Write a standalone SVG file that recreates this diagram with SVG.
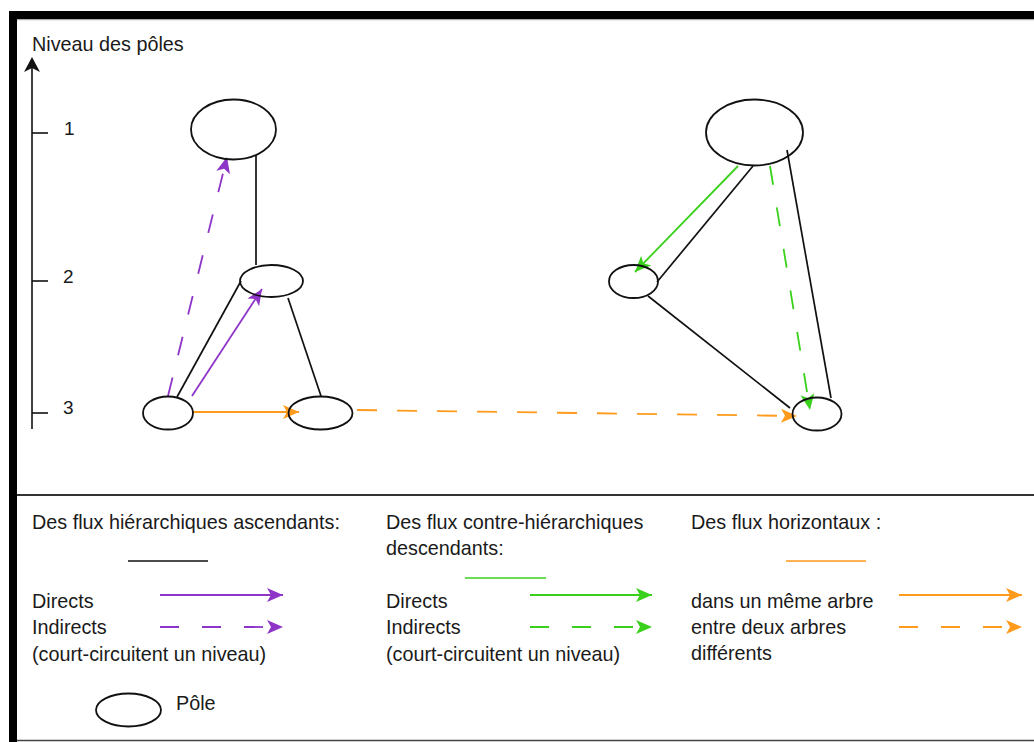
<svg xmlns="http://www.w3.org/2000/svg" width="1034" height="742" viewBox="0 0 1034 742">
<style>
text{font-family:"Liberation Sans",Arial,sans-serif;fill:#1a1a1a}
.t{font-size:19.8px}
.n{font-size:19px}
.pole{fill:none;stroke:#111;stroke-width:1.8}
.bk{stroke:#111;stroke-width:1.7;fill:none}
.pu{stroke:#8e35c8;stroke-width:1.8;fill:none}
.gr{stroke:#3ad11c;stroke-width:1.8;fill:none}
.or{stroke:#ff9a1c;stroke-width:1.8;fill:none}
.d{stroke-dasharray:19 23}
</style>
<defs>
<marker id="ap" markerUnits="userSpaceOnUse" markerWidth="18" markerHeight="15" refX="16" refY="7" orient="auto"><path d="M0,0 L16,7 L0,14 L4,7 z" fill="#8e35c8"/></marker>
<marker id="ag" markerUnits="userSpaceOnUse" markerWidth="18" markerHeight="15" refX="16" refY="7" orient="auto"><path d="M0,0 L16,7 L0,14 L4,7 z" fill="#3ad11c"/></marker>
<marker id="ao" markerUnits="userSpaceOnUse" markerWidth="18" markerHeight="15" refX="16" refY="7" orient="auto"><path d="M0,0 L16,7 L0,14 L4,7 z" fill="#ff9a1c"/></marker>
</defs>
<rect width="1034" height="742" fill="#fff"/>
<!-- frame -->
<rect x="9" y="11" width="1025" height="8" fill="#000"/>
<line x1="17" y1="19.7" x2="1034" y2="19.7" stroke="#999" stroke-width="1"/>
<rect x="9" y="11" width="8" height="731" fill="#000"/>
<line x1="17" y1="495" x2="1034" y2="495" stroke="#333" stroke-width="2"/>
<line x1="17" y1="740.5" x2="1034" y2="740.5" stroke="#444" stroke-width="1.5"/>
<!-- axis -->
<g id="axis">
<line x1="32" y1="429" x2="32" y2="68" stroke="#111" stroke-width="1.6"/>
<path d="M32,57 L40,72 L32,68 L24,72 z" fill="#111"/>
<line x1="32" y1="133" x2="48" y2="133" stroke="#111" stroke-width="1.6"/>
<line x1="32" y1="281" x2="48" y2="281" stroke="#111" stroke-width="1.6"/>
<line x1="32" y1="413" x2="48" y2="413" stroke="#111" stroke-width="1.6"/>
<text x="32" y="51" class="t">Niveau des pôles</text>
<text x="64" y="135" class="n">1</text>
<text x="63" y="283" class="n">2</text>
<text x="63" y="414" class="n">3</text>
</g>
<!-- connectors -->
<g id="connectors">
<line class="bk" x1="256" y1="155" x2="256" y2="265"/>
<line class="bk" x1="177" y1="397" x2="241" y2="281"/>
<line class="bk" x1="288" y1="298" x2="321" y2="396"/>
<line class="pu" x1="192" y1="396" x2="262" y2="289" marker-end="url(#ap)"/>
<line class="pu d" x1="168" y1="396" x2="227" y2="157" marker-end="url(#ap)"/>
<line class="or" x1="193" y1="412" x2="299" y2="412" marker-end="url(#ao)"/>
<line class="or" x1="357" y1="410" x2="797" y2="416" marker-end="url(#ao)" stroke-dasharray="20 20"/>
<line class="bk" x1="753" y1="166" x2="657" y2="282"/>
<line class="gr" x1="738" y1="166" x2="635" y2="272" marker-end="url(#ag)"/>
<line class="bk" x1="648" y1="296" x2="790" y2="408"/>
<line class="gr d" x1="770" y1="166" x2="810" y2="410" marker-end="url(#ag)"/>
<line class="bk" x1="787" y1="150" x2="831" y2="398"/>
</g>
<!-- nodes -->
<g id="n_l1"><ellipse class="pole" cx="233.5" cy="129.5" rx="42.5" ry="30"/></g>
<g id="n_l2"><ellipse class="pole" cx="271.5" cy="281" rx="31.5" ry="16"/></g>
<g id="n_l3a"><ellipse class="pole" cx="168" cy="413" rx="25" ry="16.5"/></g>
<g id="n_l3b"><ellipse class="pole" cx="320.5" cy="413" rx="32" ry="16.5"/></g>
<g id="n_r1"><ellipse class="pole" cx="754.5" cy="132.5" rx="48.5" ry="33"/></g>
<g id="n_r2"><ellipse class="pole" cx="633.5" cy="281.5" rx="24.5" ry="16.5"/></g>
<g id="n_r3"><ellipse class="pole" cx="817" cy="414" rx="24.5" ry="16.5"/></g>
<!-- legend -->
<g id="legend1">
<text x="32" y="529" class="t">Des flux hiérarchiques ascendants:</text>
<line x1="128" y1="561" x2="208" y2="561" stroke="#111" stroke-width="1.7"/>
<text x="32" y="608" class="t">Directs</text>
<line class="pu" x1="160" y1="595" x2="283" y2="595" marker-end="url(#ap)"/>
<text x="32" y="634" class="t">Indirects</text>
<line class="pu d" x1="160" y1="627" x2="283" y2="627" marker-end="url(#ap)"/>
<text x="32" y="661" class="t">(court-circuitent un niveau)</text>
</g>
<g id="legend_pole">
<ellipse class="pole" cx="128.5" cy="710" rx="32.5" ry="16.5"/>
<text x="176" y="710" class="t">Pôle</text>
</g>
<g id="legend2">
<text x="386" y="529" class="t">Des flux contre-hiérarchiques</text>
<text x="386" y="555" class="t">descendants:</text>
<line x1="465" y1="578" x2="546" y2="578" stroke="#3ad11c" stroke-width="1.7"/>
<text x="386" y="608" class="t">Directs</text>
<line class="gr" x1="530" y1="595" x2="652" y2="595" marker-end="url(#ag)"/>
<text x="386" y="634" class="t">Indirects</text>
<line class="gr d" x1="530" y1="627" x2="652" y2="627" marker-end="url(#ag)"/>
<text x="386" y="661" class="t">(court-circuitent un niveau)</text>
</g>
<g id="legend3">
<text x="691" y="529" class="t">Des flux horizontaux :</text>
<line x1="786" y1="561" x2="866" y2="561" stroke="#ff9a1c" stroke-width="1.7"/>
<text x="691" y="608" class="t">dans un même arbre</text>
<line class="or" x1="899" y1="595" x2="1022" y2="595" marker-end="url(#ao)"/>
<text x="691" y="634" class="t">entre deux arbres</text>
<line class="or d" x1="899" y1="627" x2="1022" y2="627" marker-end="url(#ao)"/>
<text x="691" y="660" class="t">différents</text>
</g>
</svg>
